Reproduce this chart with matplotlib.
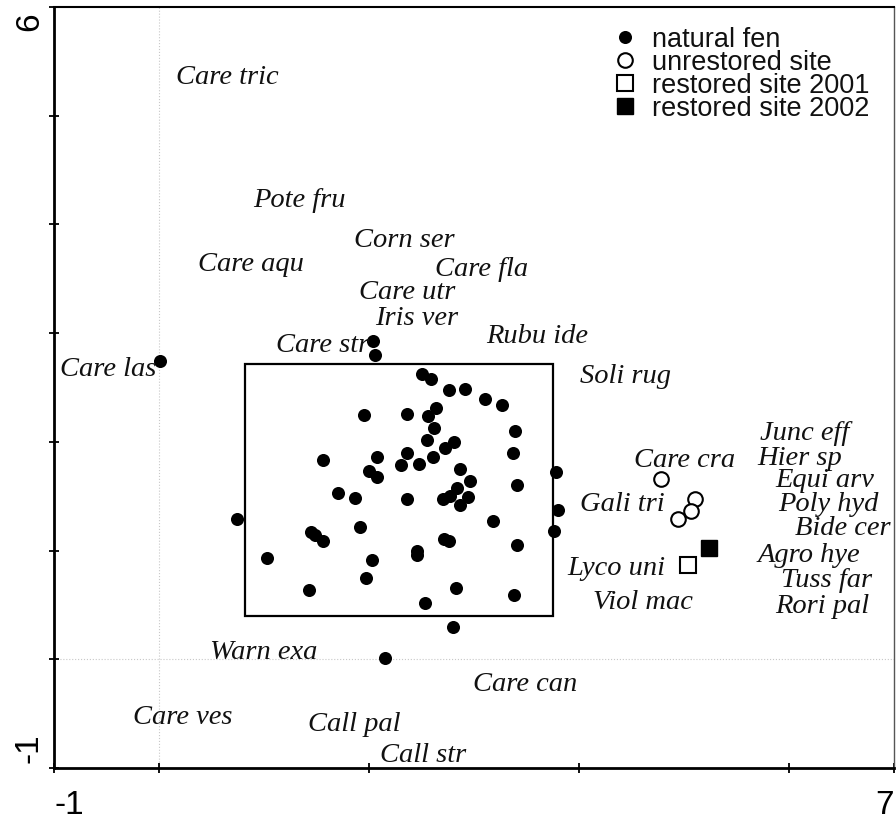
"""Ordination plot of fen plots and species (recreated)."""

import matplotlib

matplotlib.use("Agg")
import matplotlib.pyplot as plt
import matplotlib.transforms as mtransforms
from matplotlib.patches import Rectangle

# plot scores
FEN_X = [0.01, 2.04, 2.06, 1.95, 1.56, 2.08, 2.00, 2.08, 1.70, 1.87, 2.30,
         2.50, 2.59, 2.76, 2.91, 3.10, 3.27, 2.36, 2.56, 2.64, 2.62, 3.39,
         2.55, 2.81, 2.72, 2.36, 2.48, 2.61, 3.37, 2.87, 2.96, 3.78, 3.41,
         2.84, 2.77, 2.36, 2.70, 2.94, 2.87, 3.80, 3.18, 3.76, 0.74, 1.45,
         1.49, 1.56, 1.91, 2.71, 2.76, 3.41, 1.03, 2.03, 2.46, 2.46, 1.97,
         1.43, 2.83, 3.38, 2.53, 2.80, 2.15]
FEN_Y = [2.74, 2.93, 2.80, 2.25, 1.83, 1.86, 1.73, 1.68, 1.53, 1.48, 1.79,
         2.62, 2.58, 2.48, 2.49, 2.39, 2.34, 2.26, 2.24, 2.31, 2.13, 2.10,
         2.02, 2.00, 1.94, 1.90, 1.80, 1.86, 1.90, 1.75, 1.64, 1.72, 1.60,
         1.58, 1.50, 1.47, 1.47, 1.49, 1.42, 1.37, 1.27, 1.18, 1.29, 1.17,
         1.14, 1.09, 1.22, 1.11, 1.09, 1.05, 0.93, 0.91, 1.00, 0.96, 0.75,
         0.64, 0.66, 0.59, 0.52, 0.30, 0.01]

UNRESTORED_X = [4.78, 5.10, 5.07, 4.94]
UNRESTORED_Y = [1.66, 1.47, 1.36, 1.29]
RESTORED01_X = [5.04]
RESTORED01_Y = [0.87]
RESTORED02_X = [5.24]
RESTORED02_Y = [1.02]

# frame drawn around the natural fen cluster
BOX_X = [0.82, 3.75]
BOX_Y = [0.40, 2.72]

# species labels (left edge, vertical centre)
SPECIES = ["Care tric", "Pote fru", "Corn ser", "Care aqu", "Care fla",
           "Care utr", "Iris ver", "Rubu ide", "Care str", "Care las",
           "Soli rug", "Junc eff", "Care cra", "Hier sp", "Equi arv",
           "Gali tri", "Poly hyd", "Bide cer", "Agro hye", "Lyco uni",
           "Tuss far", "Viol mac", "Rori pal", "Warn exa", "Care can",
           "Care ves", "Call pal", "Call str"]
SPECIES_X = [0.16, 0.90, 1.86, 0.37, 2.63, 1.90, 2.06, 3.12, 1.11, -0.94,
             4.01, 5.72, 4.52, 5.70, 5.87, 4.01, 5.90, 6.06, 5.70, 3.89,
             5.92, 4.13, 5.87, 0.49, 2.99, -0.25, 1.42, 2.10]
SPECIES_Y = [5.38, 4.25, 3.88, 3.66, 3.61, 3.40, 3.16, 3.00, 2.91, 2.69,
             2.63, 2.10, 1.86, 1.87, 1.67, 1.45, 1.45, 1.23, 0.98, 0.86,
             0.75, 0.55, 0.51, 0.09, -0.20, -0.51, -0.57, -0.86]

XLIM = (-1, 7)
YLIM = (-1, 6)
XTICKS = [-1, 0, 2, 4, 6, 7]
YTICKS = [-1, 0, 1, 2, 3, 4, 5, 6]


def main() -> None:
    fig = plt.figure(figsize=(8.96, 8.24), dpi=100)
    ax = fig.add_axes([54 / 896, 56 / 824, 840 / 896, 761 / 824])

    ax.set_xlim(*XLIM)
    ax.set_ylim(*YLIM)

    # faint dotted zero lines
    ax.axvline(0, color="#c8c8c8", lw=0.8, ls=":", zorder=0)
    ax.axhline(0, color="#c8c8c8", lw=0.8, ls=":", zorder=0)

    ax.add_patch(Rectangle((BOX_X[0], BOX_Y[0]), BOX_X[1] - BOX_X[0],
                           BOX_Y[1] - BOX_Y[0], fill=False, ec="black",
                           lw=1.6, zorder=1))

    ax.plot(FEN_X, FEN_Y, "o", color="black", ms=9.4, mec="none",
            label="natural fen", zorder=3)
    ax.plot(UNRESTORED_X, UNRESTORED_Y, "o", mfc="white", mec="black",
            ms=10.5, mew=1.5, label="unrestored site", zorder=3)
    ax.plot(RESTORED01_X, RESTORED01_Y, "s", mfc="white", mec="black",
            ms=11, mew=1.5, label="restored site 2001", zorder=3)
    ax.plot(RESTORED02_X, RESTORED02_Y, "s", color="black",
            ms=11, mec="black", label="restored site 2002", zorder=3)

    # labels sit a few pixels lower than the plain bbox centre
    text_tr = mtransforms.offset_copy(ax.transData, fig=fig, x=0, y=-3,
                                      units="dots")
    for name, x, y in zip(SPECIES, SPECIES_X, SPECIES_Y):
        ax.text(x, y, name, ha="left", va="center", fontsize=20.5,
                style="italic", family="Liberation Serif", color="#111111",
                transform=text_tr)

    leg = ax.legend(loc="upper left", bbox_to_anchor=(0.667, 0.974),
                    frameon=False, borderpad=0, borderaxespad=0,
                    handlelength=0.8, handletextpad=0.6, labelspacing=-0.11,
                    prop={"family": "Liberation Sans", "size": 19.5})
    for txt in leg.get_texts():
        txt.set_color("#111111")

    ax.set_xticks(XTICKS)
    ax.set_xticklabels([str(XTICKS[0])] + [""] * (len(XTICKS) - 2) + [str(XTICKS[-1])])
    ax.set_yticks(YTICKS)
    ax.set_yticklabels([str(YTICKS[0])] + [""] * (len(YTICKS) - 2) + [str(YTICKS[-1])])

    ax.tick_params(direction="inout", length=7, width=1.3, labelsize=24,
                   colors="black")
    ax.tick_params(axis="x", pad=12)
    ax.tick_params(axis="y", pad=1)
    for lab in ax.get_xticklabels() + ax.get_yticklabels():
        lab.set_family("Liberation Sans")
    xl = ax.get_xticklabels()
    xl[0].set_ha("left")
    xl[-1].set_ha("right")
    yl = ax.get_yticklabels()
    for lab in yl:
        lab.set_rotation(90)
    yl[0].set_va("bottom")
    yl[-1].set_va("top")
    # end labels on the y axis are tucked a little inside the ends
    yl[0].set_transform(yl[0].get_transform()
                        + mtransforms.ScaledTranslation(0, 5 / 100, fig.dpi_scale_trans))
    yl[-1].set_transform(yl[-1].get_transform()
                         + mtransforms.ScaledTranslation(-3 / 100, -5 / 100, fig.dpi_scale_trans))
    yl[0].set_transform(yl[0].get_transform()
                        + mtransforms.ScaledTranslation(-3 / 100, 0, fig.dpi_scale_trans))

    ax.spines["left"].set_linewidth(2)
    ax.spines["bottom"].set_linewidth(2)
    ax.spines["top"].set_linewidth(1.5)
    ax.spines["right"].set_linewidth(1.0)
    ax.spines["right"].set_color("#555555")

    fig.savefig("out.png", dpi=100)


if __name__ == "__main__":
    main()
